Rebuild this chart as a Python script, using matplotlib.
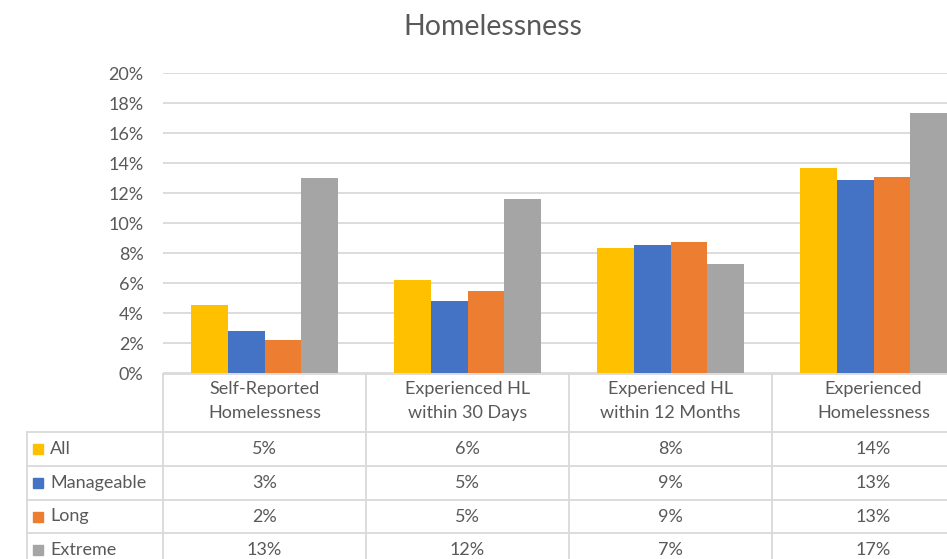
import matplotlib

matplotlib.use("Agg")
import matplotlib.pyplot as plt  # noqa: E402
from matplotlib.transforms import blended_transform_factory  # noqa: E402

categories = [
    "Self-Reported\nHomelessness",
    "Experienced HL\nwithin 30 Days",
    "Experienced HL\nwithin 12 Months",
    "Experienced\nHomelessness",
]
series_names = ["All", "Manageable", "Long", "Extreme"]
all_vals = [4.56, 6.2, 8.35, 13.7]
manageable_vals = [2.8, 4.8, 8.55, 12.9]
long_vals = [2.2, 5.45, 8.75, 13.1]
extreme_vals = [13.0, 11.6, 7.25, 17.35]
y_ticks = [0, 2, 4, 6, 8, 10, 12, 14, 16, 18, 20]

colors = ["#FFC000", "#4472C4", "#ED7D31", "#A5A5A5"]
grid_c = "#D9D9D9"
text_c = "#595959"

W, H = 947, 559
plt.rcParams["font.family"] = ["Lato", "DejaVu Sans"]

fig = plt.figure(figsize=(W / 100, H / 100), dpi=100)
# plot area: x 163..975 px (runs past the right edge), y 73..373 px
ax = fig.add_axes([163 / W, 1 - 373 / H, (975 - 163) / W, 300 / H])

values = [all_vals, manageable_vals, long_vals, extreme_vals]
n = len(series_names)
bw = 0.181
for i, (vals, c) in enumerate(zip(values, colors)):
    xs = [k + (i - (n - 1) / 2) * bw for k in range(len(categories))]
    ax.bar(xs, vals, width=bw, color=c, zorder=3)

ax.set_xlim(-0.5, len(categories) - 0.5)
ax.set_ylim(0, 20)
ax.set_yticks(y_ticks)
ax.set_yticklabels([f"{t}%" for t in y_ticks], color=text_c, fontsize=13)
ax.tick_params(axis="y", length=0, pad=14)
ax.set_xticks([])
ax.yaxis.grid(True, color=grid_c, linewidth=1.3, zorder=0)
for s in ax.spines.values():
    s.set_visible(False)

fig.text(493 / W, 1 - 27 / H, "Homelessness", ha="center", va="center",
         fontsize=20.5, color=text_c)

# data table below the plot, x in category units, y in figure fraction
tr = blended_transform_factory(ax.transData, fig.transFigure)


def px_x(px):
    return -0.5 + (px - 163) / 203


def fy(py):
    return 1 - py / H


line_kw = dict(color=grid_c, linewidth=1.3, transform=tr, clip_on=False)
x_left = px_x(27)
x_right = len(categories) - 0.5
row_edges = [432, 466, 500, 533, 567]

ax.plot([-0.5, x_right], [fy(374), fy(374)], **line_kw)
for py in row_edges[:-1]:
    ax.plot([x_left, x_right], [fy(py), fy(py)], **line_kw)
for k in range(len(categories) + 1):
    ax.plot([k - 0.5, k - 0.5], [fy(374), fy(567)], **line_kw)
ax.plot([x_left, x_left], [fy(432), fy(567)], **line_kw)

for k, cat in enumerate(categories):
    ax.text(k, fy(401), cat, transform=tr, ha="center", va="center",
            fontsize=13, color=text_c, linespacing=1.55, clip_on=False)

for r, (name, vals, c) in enumerate(zip(series_names, values, colors)):
    yc = fy((row_edges[r] + row_edges[r + 1]) / 2)
    ax.plot([px_x(38)], [yc], marker="s", markersize=7.5, color=c,
            linestyle="none", transform=tr, clip_on=False)
    ax.text(px_x(50), yc, name, transform=tr, ha="left", va="center",
            fontsize=13, color=text_c, clip_on=False)
    for k, v in enumerate(vals):
        ax.text(k, yc, f"{round(v):.0f}%", transform=tr, ha="center",
                va="center", fontsize=13, color=text_c, clip_on=False)

fig.savefig("out.png", dpi=100)
